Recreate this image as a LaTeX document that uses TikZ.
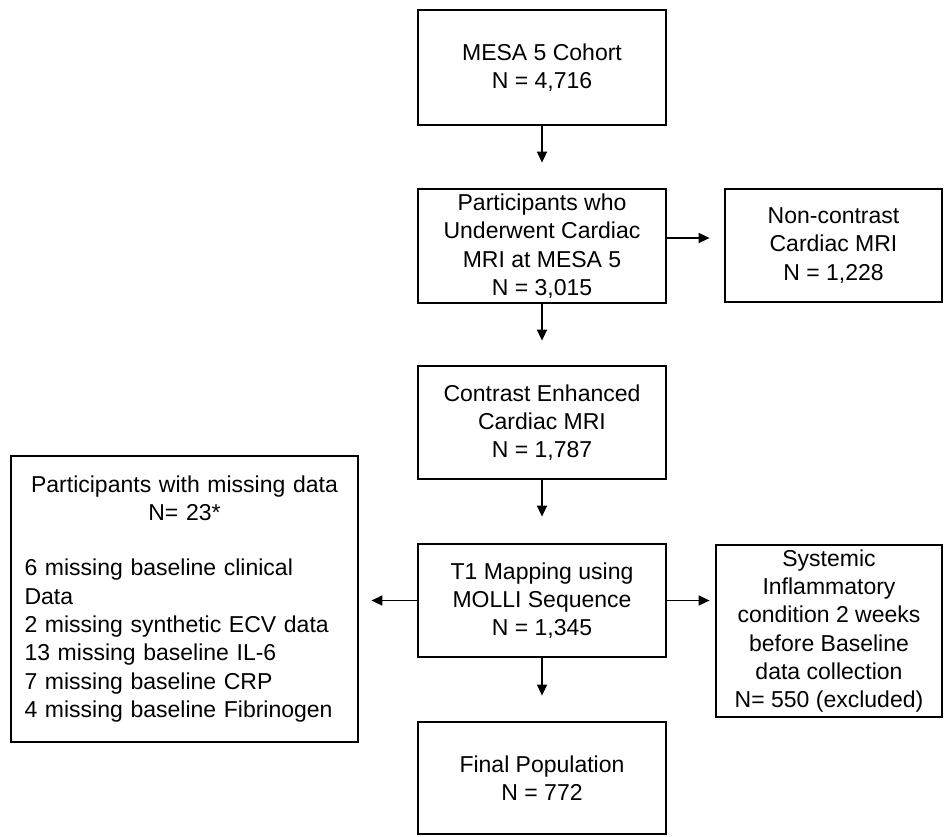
\documentclass[tikz,border=0pt]{standalone}
\usepackage{fontspec}
\setmainfont{Liberation Sans}
\usetikzlibrary{arrows.meta}
\begin{document}
\begin{tikzpicture}[x=1pt,y=-1pt,
  box/.style={draw, line width=2.8pt, align=center, inner sep=2pt, font=\fontsize{23}{28.3}\selectfont},
  arr/.style={line width=1.5pt, -{Triangle[length=11pt,width=10pt]}}]
\useasboundingbox[fill=white] (0,0) rectangle (944,836);
\node[box, minimum width=248pt, minimum height=115pt] (cohort) at (542,67.5) {MESA 5 Cohort\\N = 4,716};
\node[box, minimum width=248pt, minimum height=114pt] (mri) at (542,246) {Participants who\\Underwent Cardiac\\MRI at MESA 5\\N = 3,015};
\node[box, minimum width=217pt, minimum height=113pt] (nonc) at (833.5,245.5) {Non-contrast\\Cardiac MRI\\N = 1,228};
\node[box, minimum width=248pt, minimum height=113pt] (contrast) at (542,422.5) {Contrast Enhanced\\Cardiac MRI\\N = 1,787};
\node[box, minimum width=248pt, minimum height=113pt] (tone) at (542,600.5) {T1 Mapping using\\MOLLI Sequence\\N = 1,345};
\node[box, minimum width=226pt, minimum height=172pt] (sys) at (829,631) {Systemic\\Inflammatory\\condition 2 weeks\\before Baseline\\data collection\\N= 550 (excluded)};
\node[box, minimum width=248pt, minimum height=112pt] (final) at (542,778) {Final Population\\N = 772};
\node[draw, line width=2.8pt, text width=320pt, inner xsep=13.5pt, inner ysep=2pt, minimum height=286pt, font=\fontsize{23}{28.3}\selectfont] (miss) at (184.5,599)
 {{\centering Participants with missing data\\N= 23*\par}\vspace{26.7pt}{\raggedright 6 missing baseline clinical\\Data\\2 missing synthetic ECV data\\13 missing baseline IL-6\\7 missing baseline CRP\\4 missing baseline Fibrinogen\par}};
\draw[arr, shorten >=25pt] (cohort.south) -- (mri.north);
\draw[arr, shorten >=24pt] (mri.south) -- (contrast.north);
\draw[arr, shorten >=26pt] (contrast.south) -- (tone.north);
\draw[arr, shorten >=25pt] (tone.south) -- (final.north);
\draw[arr, shorten >=14pt] ([yshift=8pt]mri.east) -- ([yshift=8pt]mri.east -| nonc.west);
\draw[arr, shorten >=5pt] (tone.east) -- (tone.east -| sys.west);
\draw[arr, shorten >=12pt] (tone.west) -- (tone.west -| miss.east);
\end{tikzpicture}
\end{document}
